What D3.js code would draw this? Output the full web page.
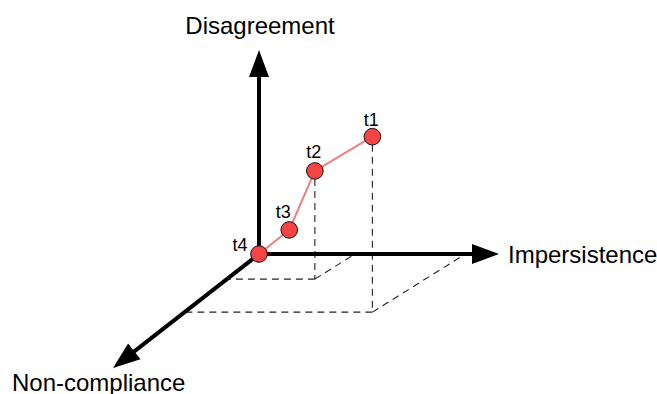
<!DOCTYPE html>
<html>
<head>
<meta charset="utf-8">
<script src="https://cdn.jsdelivr.net/npm/d3@7"></script>
<style>
  body { margin: 0; background: #fff; }
  svg { display: block; font-family: "Liberation Sans", Arial, Helvetica, sans-serif; }
</style>
</head>
<body>
<div id="chart"></div>
<script>
// values, on a 0..10 scale per axis (axis tip = 10)
const pointLabels   = ["t1", "t2", "t3", "t4"];
const impersistence = [8.6, 4.0, 1.26, 0];
const disagreement  = [8.6, 5.3, 1.18, 0];
const nonCompliance = [5.1, 2.2, 0, 0];
const guided        = ["t1", "t2"];   // points with dashed drop lines
const axisLabels    = ["Impersistence", "Disagreement", "Non-compliance"];

const width = 657;
const height = 394;
const origin = { x: 259, y: 254 };

const x = d3.scaleLinear().domain([0, 10]).range([0, 240]);   // to the right
const y = d3.scaleLinear().domain([0, 10]).range([0, 204]);   // upwards
const z = d3.scaleLinear().domain([0, 10]).range([0, 114]);   // depth (down-left)

const axisSlant = 146 / 114;   // x shift per px of depth along the axis
const floorSlant = 1.6;        // the floor guides are drawn a bit flatter

// position on the non-compliance axis
const onDepthAxis = nc => [origin.x - axisSlant * z(nc), origin.y + z(nc)];
// a point in the sketch
const project = (imp, dis, nc) => [
  origin.x + x(imp) - floorSlant * z(nc),
  origin.y - y(dis) + z(nc)
];

const points = pointLabels.map((label, i) => ({
  label,
  imp: impersistence[i],
  dis: disagreement[i],
  nc: nonCompliance[i]
}));

// label nudges relative to the dot
const labelShift = {
  t1: [-1, -11],
  t2: [-1, -13],
  t3: [-6, -12],
  t4: [-19, -3]
};

const svg = d3.select("#chart")
  .append("svg")
  .attr("width", width)
  .attr("height", height);

// dashed guides
const guides = [];
points.filter(d => guided.includes(d.label)).forEach(d => {
  const top = project(d.imp, d.dis, d.nc);
  const floor = project(d.imp, 0, d.nc);
  guides.push([[top[0], top[1] + 8], floor]);
  guides.push([floor, onDepthAxis(d.nc)]);
  guides.push([floor, project(d.imp, 0, 0)]);
});

svg.append("g")
  .selectAll("line")
  .data(guides)
  .enter()
  .append("line")
  .attr("x1", d => d[0][0])
  .attr("y1", d => d[0][1])
  .attr("x2", d => d[1][0])
  .attr("y2", d => d[1][1])
  .attr("stroke", "#222")
  .attr("stroke-width", 1.1)
  .attr("stroke-dasharray", "7,5");

// axes with arrow heads
const axes = [
  { tip: project(10, 0, 0) },
  { tip: project(0, 10, 0) },
  { tip: onDepthAxis(10) }
];
const headLen = 27;
const headHalf = 10;

axes.forEach(a => {
  const dx = a.tip[0] - origin.x;
  const dy = a.tip[1] - origin.y;
  const len = Math.hypot(dx, dy);
  const ux = dx / len, uy = dy / len;
  const base = [a.tip[0] - ux * headLen, a.tip[1] - uy * headLen];
  a.line = [[origin.x, origin.y], [base[0] + ux * 2, base[1] + uy * 2]];
  a.head = [
    a.tip,
    [base[0] - uy * headHalf, base[1] + ux * headHalf],
    [base[0] + uy * headHalf, base[1] - ux * headHalf]
  ];
});

svg.append("g")
  .selectAll("line")
  .data(axes)
  .enter()
  .append("line")
  .attr("x1", d => d.line[0][0])
  .attr("y1", d => d.line[0][1])
  .attr("x2", d => d.line[1][0])
  .attr("y2", d => d.line[1][1])
  .attr("stroke", "#000")
  .attr("stroke-width", 4);

svg.append("g")
  .selectAll("path")
  .data(axes)
  .enter()
  .append("path")
  .attr("d", d => "M" + d.head.join("L") + "Z")
  .attr("fill", "#000");

// trajectory
const line = d3.line()
  .x(d => project(d.imp, d.dis, d.nc)[0])
  .y(d => project(d.imp, d.dis, d.nc)[1]);

svg.append("path")
  .datum(points)
  .attr("d", line)
  .attr("fill", "none")
  .attr("stroke", "#f27c7c")
  .attr("stroke-width", 2);

svg.append("g")
  .selectAll("circle")
  .data(points)
  .enter()
  .append("circle")
  .attr("cx", d => project(d.imp, d.dis, d.nc)[0])
  .attr("cy", d => project(d.imp, d.dis, d.nc)[1])
  .attr("r", 8.3)
  .attr("fill", "#f44444")
  .attr("stroke", "#111")
  .attr("stroke-width", 1);

// point labels
svg.append("g")
  .selectAll("text")
  .data(points)
  .enter()
  .append("text")
  .text(d => d.label)
  .attr("x", d => project(d.imp, d.dis, d.nc)[0] + labelShift[d.label][0])
  .attr("y", d => project(d.imp, d.dis, d.nc)[1] + labelShift[d.label][1])
  .attr("text-anchor", "middle")
  .style("font-size", "18px")
  .attr("fill", "#000");

// axis labels
svg.append("text")
  .text(axisLabels[0])
  .attr("x", axes[0].tip[0] + 9)
  .attr("y", axes[0].tip[1] + 9)
  .style("font-size", "24px");

svg.append("text")
  .text(axisLabels[1])
  .attr("x", axes[1].tip[0] + 1)
  .attr("y", axes[1].tip[1] - 16)
  .attr("text-anchor", "middle")
  .style("font-size", "24px");

svg.append("text")
  .text(axisLabels[2])
  .attr("x", axes[2].tip[0] - 101)
  .attr("y", axes[2].tip[1] + 23)
  .style("font-size", "24px");
</script>
</body>
</html>
